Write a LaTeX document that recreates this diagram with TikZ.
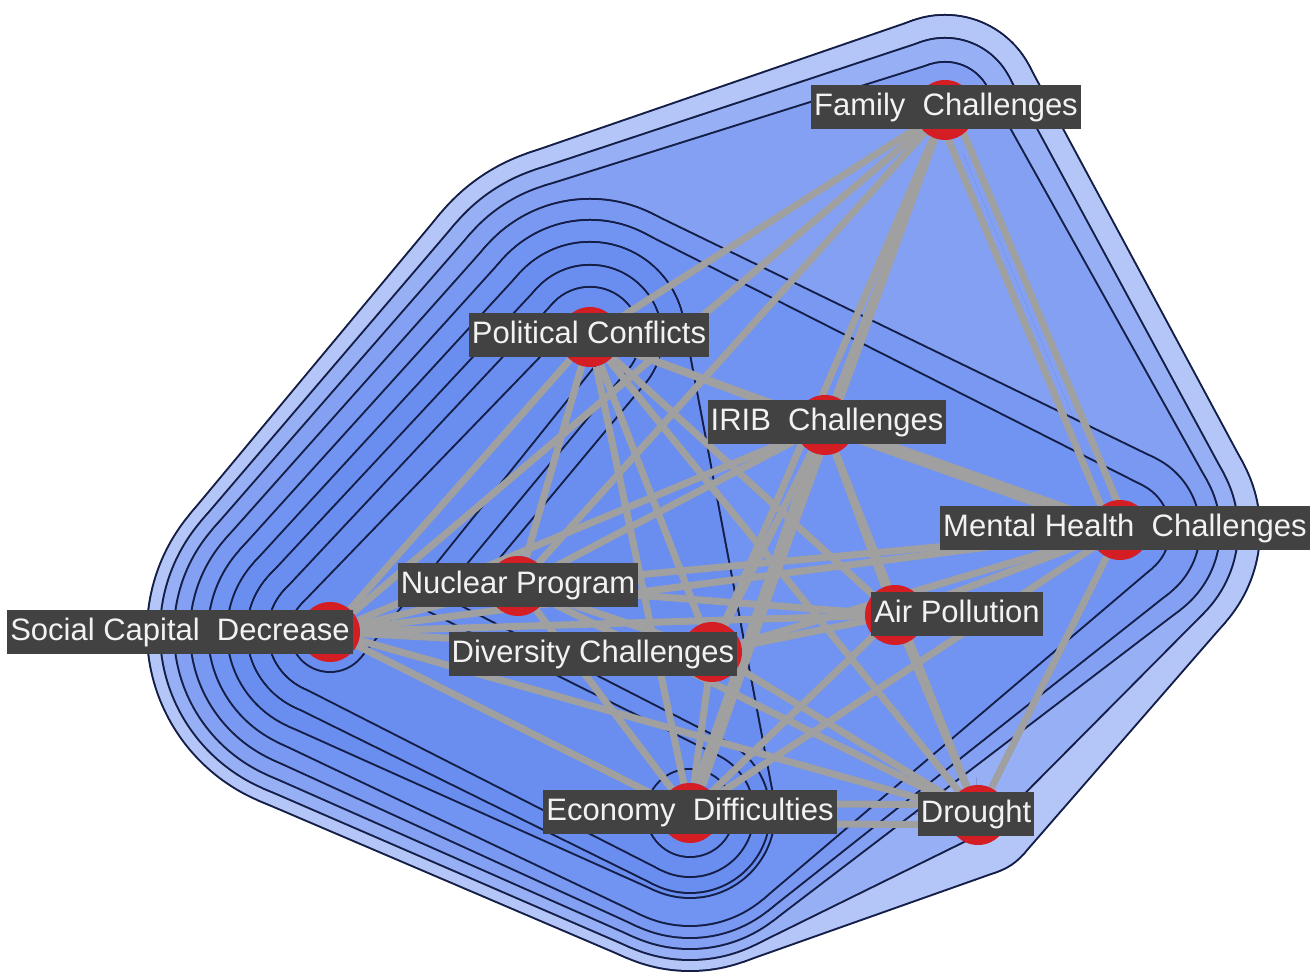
\documentclass[tikz,border=0pt]{standalone}
\usepackage{fontspec}
\setsansfont{Liberation Sans}
\usepackage{xcolor}
\usetikzlibrary{calc}

\definecolor{rim}{RGB}{20,30,70}
\definecolor{lvlA}{RGB}{180,198,247}
\definecolor{lvlB}{RGB}{150,175,245}
\definecolor{lvlC}{RGB}{131,160,243}
\definecolor{lvlD}{RGB}{120,152,242}
\definecolor{lvlE}{RGB}{113,147,241}
\definecolor{lvlF}{RGB}{106,142,240}
\definecolor{linkgray}{RGB}{160,160,160}
\definecolor{spotred}{RGB}{212,30,36}
\definecolor{tagfill}{RGB}{66,66,66}
\definecolor{tagtext}{RGB}{242,242,242}

\pgfdeclarelayer{hulls}
\pgfdeclarelayer{links}
\pgfsetlayers{hulls,links,main}

% hull of circles: colour, widening, first node, chain node/radius (closed)
\newcommand{\hullpart}[4]{%
  \foreach \nb/\rb [count=\k, remember=\nb as \na, remember=\rb as \ra] in {#4}{
    \fill[#1] (\nb.center) circle ({\rb+(#2)});
    \ifnum\k>1
      \fill[#1] (#3.center) -- (\na.center) -- (\nb.center) -- cycle;
      \fill[#1] let \p1=(\na.center), \p2=(\nb.center),
        \n1={atan2(\y2-\y1,\x2-\x1)+90-asin((\ra-\rb)/veclen(\x2-\x1,\y2-\y1))}
        in (\p1) -- ($(\p1)+(\n1:{\ra+(#2)})$) -- ($(\p2)+(\n1:{\rb+(#2)})$) -- (\p2) -- cycle;
    \fi
  }%
}
\newcommand{\hulllevel}[3]{\hullpart{rim}{1}{#2}{#3}\hullpart{#1}{-1}{#2}{#3}}
% two hulls merged into one level
\newcommand{\hullpair}[5]{%
  \hullpart{rim}{1}{#2}{#3}\hullpart{rim}{1}{#4}{#5}%
  \hullpart{#1}{-1}{#2}{#3}\hullpart{#1}{-1}{#4}{#5}}

\begin{document}
\begin{tikzpicture}[
    x=1pt, y=1pt,
    spot/.style={circle, fill=spotred, minimum size=60, inner sep=0},
    tag/.style={fill=tagfill, text=tagtext, font=\sffamily\fontsize{31}{36}\selectfont,
      inner xsep=3, inner ysep=7.5, text height=23, text depth=6.5},
    link/.style={draw=linkgray, line width=7},
    heavy/.style={link, line width=13}
]
\useasboundingbox (0,0) rectangle (1311,973);

% NODES
\node[spot] (F) at (945,863) {};
\node[spot] (P) at (590,636) {};
\node[spot] (I) at (825,548) {};
\node[spot] (M) at (1120,443) {};
\node[spot] (N) at (518,387) {};
\node[spot] (S) at (330,341) {};
\node[spot] (A) at (895,358) {};
\node[spot] (D) at (712,321) {};
\node[spot] (E) at (690,160) {};
\node[spot] (R) at (978,158) {};

% LABELS
\node[tag] (Ftag) at (946,866) {Family~~Challenges};
\node[tag] (Ptag) at (589,638) {Political Conflicts};
\node[tag] (Itag) at (827,551) {IRIB~~Challenges};
\node[tag] (Mtag) at (1125,445) {Mental Health~~Challenges};
\node[tag] (Ntag) at (518,388) {Nuclear Program};
\node[tag] (Atag) at (957,359) {Air Pollution};
\node[tag] (Stag) at (180,341) {Social Capital~~Decrease};
\node[tag] (Dtag) at (593,319) {Diversity Challenges};
\node[tag] (Etag) at (690,161) {Economy~~Difficulties};
\node[tag] (Rtag) at (976,159) {Drought};

% HULLS
\begin{pgfonlayer}{hulls}
\fill[white] (0,0) rectangle (1311,973);
\hulllevel{lvlA}{F}{F/95,M/140,R/60,E/158,S/183,P/194,F/95}
\hulllevel{lvlB}{F}{F/72,M/118,R/18,E/147,S/170,P/176,F/72}
\hulllevel{lvlC}{F}{F/48,M/100,E/136,S/156,P/158,F/48}
\hulllevel{lvlD}{P}{P/138,M/80,E/125,S/140,P/138}
\hulllevel{lvlE}{P}{P/117,M/50,E/113,S/122,P/117}
\hulllevel{lvlF}{P}{P/95,E/85,S/103,P/95}
\hullpair{lvlF}{P}{P/72,S/83,P/72}{S}{S/83,E/80,S/83}
\hullpair{lvlF}{P}{P/50,S/62,P/50}{S}{S/62,E/64,S/62}
\hulllevel{lvlF}{P}{P/22,S/40,P/22}
\hulllevel{lvlF}{E}{E/44}
\end{pgfonlayer}

% LINKS
\begin{pgfonlayer}{links}
\foreach \a/\b in {F/P, F/S, F/N, F/I, F/D, F/E,
    P/S, P/N, P/I, P/M, P/A, P/D, P/E, P/R,
    S/N, S/I, S/M, S/A, S/D, S/E, S/R,
    N/I, N/M, N/A, N/D, N/E, N/R,
    I/A, I/D, I/R,
    M/A, M/D, M/E, M/R,
    A/D, A/E, A/R,
    D/E, D/R}
  \draw[link] (\a) -- (\b);
\foreach \a/\b in {I/M, I/E}
  \draw[heavy] (\a) -- (\b);
\draw[link] ([xshift=-9]F.center) -- ([xshift=-9]M.center);
\draw[link] ([xshift=9]F.center) -- ([xshift=9]M.center);
\draw[link] ([yshift=-10]E.center) -- ([yshift=-10]R.center);
\draw[link] ([yshift=10]E.center) -- ([yshift=10]R.center);
\end{pgfonlayer}

\end{tikzpicture}
\end{document}
